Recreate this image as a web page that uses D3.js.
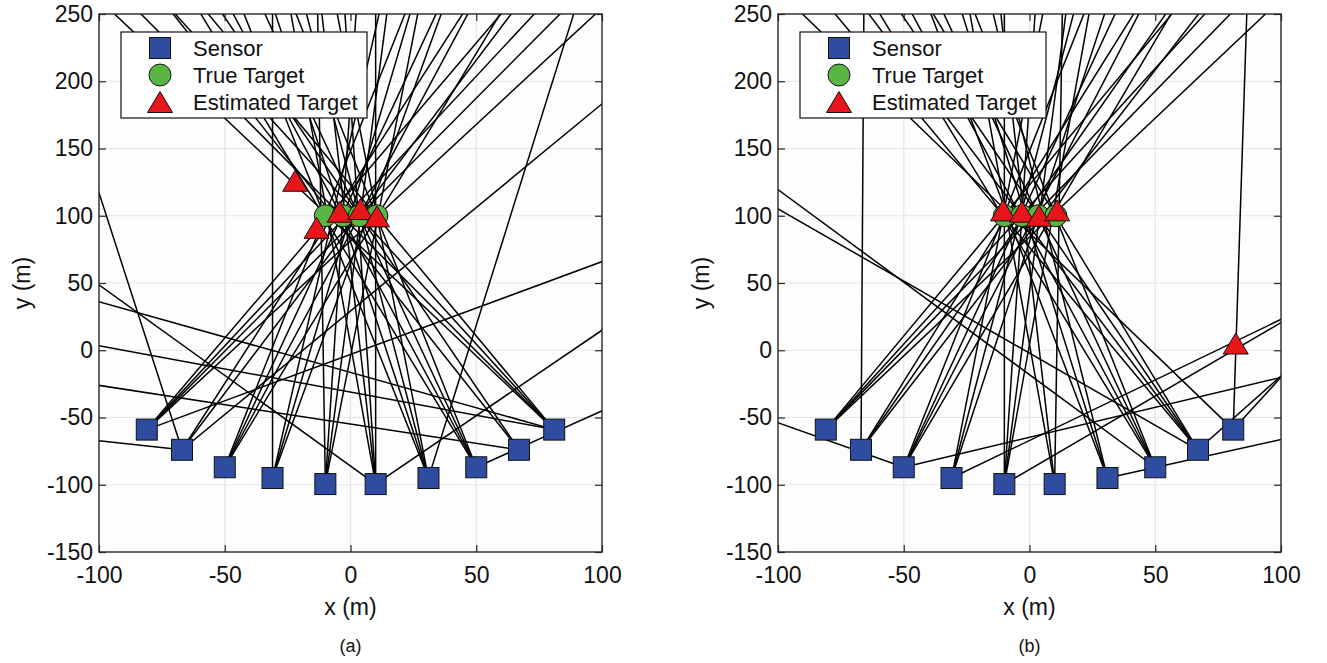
<!DOCTYPE html>
<html>
<head>
<meta charset="utf-8">
<script src="https://cdn.jsdelivr.net/npm/d3@7"></script>
<style>
    body { margin: 0; background: #fff; }
    text { font-family: "Liberation Sans", Arial, Helvetica, sans-serif; fill: #111; }
    .axis-label { font-size: 23px; }
    .legend-text { font-size: 22px; }
</style>
</head>
<body>
<div id="chart"></div>
<script>
"use strict"

// axis ticks
const xTicks = [-100, -50, 0, 50, 100]
const yTicks = [-150, -100, -50, 0, 50, 100, 150, 200, 250]

// sensor positions (m)
const sensorX = [-81, -67, -50, -31, -10, 10, 31, 50, 67, 81]
const sensorY = [-59, -74, -87, -95, -99.5, -99.5, -95, -87, -74, -59]

// true targets (m)
const trueX = [-10, -3, 3.5, 10.5]
const trueY = [100, 100, 100, 100]

// estimated targets, panel (a) and (b)
const estAX = [-22, -13.5, -4.3, 4, 10.5]
const estAY = [126, 91, 103, 105, 99.5]
const estBX = [-10.5, -3, 3.8, 11, 82]
const estBY = [104, 103, 100, 104, 5]

// bearing lines: [sensor index, bearing in degrees], panel (a)
const bearingsA = [
    [0, 65.5], [0, 63.5], [0, 62], [0, 60], [0, 34.6],
    [1, 71], [1, 68], [1, 57], [1, 99.8], [1, 168.5],
    [2, 78], [2, 76], [2, 74], [2, 72],
    [3, 90], [3, 83], [3, 81], [3, 79],
    [4, 90.5], [4, 88], [4, 86], [4, 84],
    [5, 95.5], [5, 93.5], [5, 92], [5, 90], [5, 51.8], [5, 126.6],
    [6, 102], [6, 100], [6, 98], [6, 96], [6, 80.5],
    [7, 108], [7, 106], [7, 104], [7, 102], [7, 40],
    [8, 113], [8, 110], [8, 164],
    [9, 119.5], [9, 118], [9, 116], [9, 114], [9, 152.3], [9, 161]
]

// bearing lines, panel (b)
const bearingsB = [
    [0, 66], [0, 64], [0, 62.5], [0, 60.5],
    [1, 89.8], [1, 71.5], [1, 69.5], [1, 67.5],
    [2, 78], [2, 76], [2, 74.5], [2, 72.5], [2, 146.5], [2, 24],
    [3, 84], [3, 82], [3, 80], [3, 42],
    [4, 90], [4, 88], [4, 86], [4, 84.5], [4, 47.5],
    [5, 89.5], [5, 95.5], [5, 93.5],
    [6, 101.5], [6, 99.5], [6, 97.5], [6, 22.5],
    [7, 108], [7, 106], [7, 104], [7, 102], [7, 126],
    [8, 114], [8, 112], [8, 110], [8, 108], [8, 133], [8, 59],
    [9, 89], [9, 64], [9, 119]
]

const legendItems = ["Sensor", "True Target", "Estimated Target"]

const bearingPlot = (function() {

    const colors = { sensor: "#2f4da0", truth: "#5ab543", est: "#e8161b", grid: "#e2e6eb", box: "#262626" }

    function trianglePath(w, h) {
        return `M0,${ -h / 2 }L${ w / 2 },${ h / 2 }L${ -w / 2 },${ h / 2 }Z`
    }

    function panel(svg, opts) {
        const frame = { l: opts.left, r: opts.left + 503, t: 14, b: 552 }
        const x = d3.scaleLinear().domain([-100, 100]).range([frame.l, frame.r])
        const y = d3.scaleLinear().domain([-150, 250]).range([frame.b, frame.t])
        const g = svg.append("g")

        // plot background
        g.append("rect")
            .attr("x", frame.l).attr("y", frame.t)
            .attr("width", frame.r - frame.l).attr("height", frame.b - frame.t)
            .attr("fill", "#fdfdfe")

        // grid
        g.append("g").selectAll("line")
            .data(xTicks.slice(1, -1))
            .enter().append("line")
                .attr("x1", d => x(d)).attr("x2", d => x(d))
                .attr("y1", frame.t).attr("y2", frame.b)
                .attr("stroke", colors.grid).attr("stroke-width", 1.2)
        g.append("g").selectAll("line")
            .data(yTicks.slice(1, -1))
            .enter().append("line")
                .attr("x1", frame.l).attr("x2", frame.r)
                .attr("y1", d => y(d)).attr("y2", d => y(d))
                .attr("stroke", colors.grid).attr("stroke-width", 1.2)

        // clip for bearing lines
        const clipId = `clip-${ opts.id }`
        svg.append("clipPath").attr("id", clipId)
            .append("rect")
                .attr("x", frame.l).attr("y", frame.t)
                .attr("width", frame.r - frame.l).attr("height", frame.b - frame.t)

        // bearing lines from each sensor
        const far = 1000
        g.append("g")
            .attr("clip-path", `url(#${ clipId })`)
            .selectAll("line")
            .data(opts.bearings)
            .enter().append("line")
                .attr("x1", d => x(sensorX[d[0]]))
                .attr("y1", d => y(sensorY[d[0]]))
                .attr("x2", d => x(sensorX[d[0]] + far * Math.cos(d[1] * Math.PI / 180)))
                .attr("y2", d => y(sensorY[d[0]] + far * Math.sin(d[1] * Math.PI / 180)))
                .attr("stroke", "#000").attr("stroke-width", 1.5)

        // sensors
        g.append("g").selectAll("rect")
            .data(sensorX)
            .enter().append("rect")
                .attr("x", (d, i) => x(d) - 10.5)
                .attr("y", (d, i) => y(sensorY[i]) - 10.5)
                .attr("width", 21).attr("height", 21)
                .attr("fill", colors.sensor).attr("stroke", "#111").attr("stroke-width", 1)

        // true targets
        g.append("g").selectAll("circle")
            .data(trueX)
            .enter().append("circle")
                .attr("cx", d => x(d))
                .attr("cy", (d, i) => y(trueY[i]))
                .attr("r", 11)
                .attr("fill", colors.truth).attr("stroke", "#111").attr("stroke-width", 1)

        // estimated targets
        g.append("g").selectAll("path")
            .data(opts.estX)
            .enter().append("path")
                .attr("d", trianglePath(25, 21))
                .attr("transform", (d, i) => `translate(${ x(d) }, ${ y(opts.estY[i]) })`)
                .attr("fill", colors.est).attr("stroke", "#111").attr("stroke-width", 1)

        // box with inward ticks on all sides, plain hyphen minus in labels
        const fmt = d => String(d)
        const axes = {
            bottom: d3.axisBottom(x).tickValues(xTicks).tickFormat(fmt).tickSize(-7).tickPadding(15).tickSizeOuter(0),
            top: d3.axisTop(x).tickValues(xTicks).tickSize(-7).tickFormat("").tickSizeOuter(0),
            left: d3.axisLeft(y).tickValues(yTicks).tickFormat(fmt).tickSize(-7).tickPadding(6).tickSizeOuter(0),
            right: d3.axisRight(y).tickValues(yTicks).tickSize(-7).tickFormat("").tickSizeOuter(0)
        }
        const place = {
            bottom: `translate(0, ${ frame.b })`, top: `translate(0, ${ frame.t })`,
            left: `translate(${ frame.l }, 0)`, right: `translate(${ frame.r }, 0)`
        }
        Object.keys(axes).forEach(k => {
            const ax = g.append("g").attr("transform", place[k]).call(axes[k])
            ax.select(".domain").remove()
            ax.selectAll(".tick line").attr("stroke", colors.box).attr("stroke-width", 1.2)
            ax.selectAll(".tick text")
                .attr("fill", "#111")
                .style("font-size", "23px")
                .style("font-family", "\"Liberation Sans\", Arial, sans-serif")
        })
        g.append("rect")
            .attr("x", frame.l).attr("y", frame.t)
            .attr("width", frame.r - frame.l).attr("height", frame.b - frame.t)
            .attr("fill", "none").attr("stroke", colors.box).attr("stroke-width", 1.4)

        // axis labels and caption
        const mid = (frame.l + frame.r) / 2
        g.append("text").attr("class", "axis-label")
            .attr("text-anchor", "middle")
            .attr("transform", `translate(${ mid }, 615)`)
            .text("x (m)")
        g.append("text").attr("class", "axis-label")
            .attr("text-anchor", "middle")
            .attr("transform", `translate(${ frame.l - 69 }, ${ (frame.t + frame.b) / 2 }) rotate(-90)`)
            .text("y (m)")
        g.append("text")
            .attr("text-anchor", "middle")
            .style("font-size", "18px")
            .attr("transform", `translate(${ mid }, 652)`)
            .text(opts.caption)

        // legend
        const lg = g.append("g").attr("transform", `translate(${ frame.l + 22 }, 32)`)
        lg.append("rect")
            .attr("width", 246).attr("height", 86)
            .attr("fill", "#fff").attr("stroke", "#111").attr("stroke-width", 1.2)
        const rowY = i => 16 + i * 27
        lg.append("rect").attr("x", 39 - 10.5).attr("y", rowY(0) - 10.5).attr("width", 21).attr("height", 21)
            .attr("fill", colors.sensor).attr("stroke", "#111")
        lg.append("circle").attr("cx", 39).attr("cy", rowY(1)).attr("r", 11)
            .attr("fill", colors.truth).attr("stroke", "#111")
        lg.append("path").attr("d", trianglePath(25, 21))
            .attr("transform", `translate(39, ${ rowY(2) })`)
            .attr("fill", colors.est).attr("stroke", "#111")
        lg.selectAll("text.legend-text")
            .data(legendItems)
            .enter().append("text")
                .attr("class", "legend-text")
                .attr("x", 72)
                .attr("y", (d, i) => rowY(i) + 8)
                .text(d => d)
    }

    function draw(target) {
        const svg = d3.select(target).append("svg")
            .attr("width", 1327).attr("height", 663)
            .attr("viewBox", "0 0 1327 663")
        panel(svg, { id: "a", left: 99, bearings: bearingsA, estX: estAX, estY: estAY, caption: "(a)" })
        panel(svg, { id: "b", left: 778, bearings: bearingsB, estX: estBX, estY: estBY, caption: "(b)" })
    }

    return { draw: draw }
}())

bearingPlot.draw("#chart")
</script>
</body>
</html>
